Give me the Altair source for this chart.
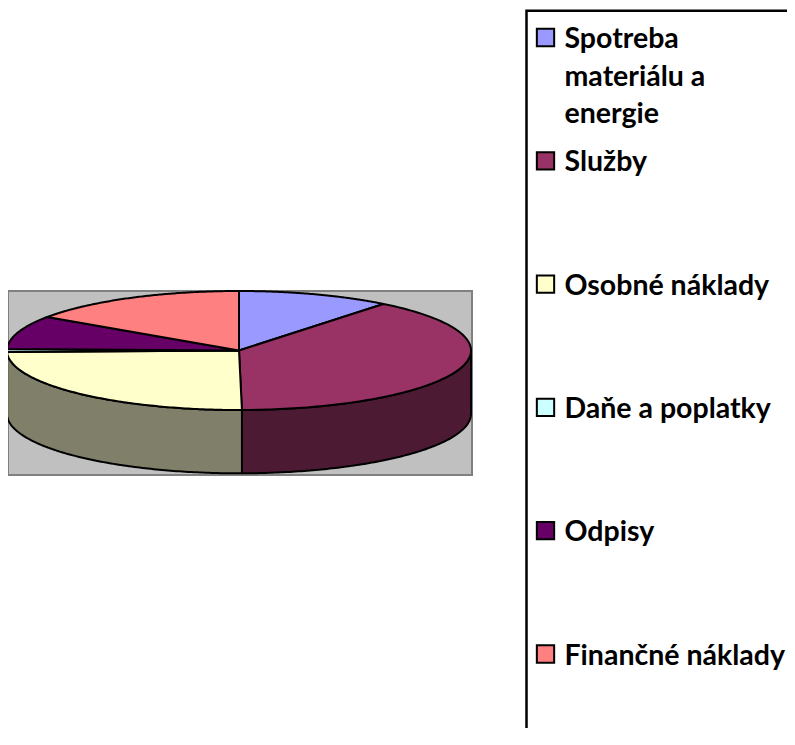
import altair as alt
import pandas as pd

# ---- data ----
kategorie = ["Spotreba materiálu a energie", "Služby", "Osobné náklady",
             "Daňe a poplatky", "Odpisy", "Finančné náklady"]
podiely = [10.7, 39.1, 24.8, 0.8, 9.1, 15.5]
legenda_texty = ["Spotreba\nmateriálu a\nenergie", "Služby", "Osobné náklady",
                 "Daňe a poplatky", "Odpisy", "Finančné náklady"]

# ---- styles ----
farby_vrch = ["#9999FF", "#993366", "#FFFFCC", "#CCFFFF", "#660066", "#FF8080"]
farby_bok = ["#4D4D80", "#4C1A33", "#80806A", "#668080", "#330033", "#804040"]
N = 120            # points per arc
HLBKA = 1.064      # depth of the 3D pie, in units of the vertical radius
XDOM = [-231 / 232, 233 / 232]
YDOM = [-2.092, 1.0]

df = pd.DataFrame({"kategoria": kategorie, "podiel": podiely,
                   "poradie": list(range(len(kategorie)))})
leg = pd.DataFrame({"kategoria": kategorie, "popis": legenda_texty})

base = (
    alt.Chart(df)
    .transform_window(kum="sum(podiel)", sort=[alt.SortField("poradie")], frame=[None, 0])
    .transform_joinaggregate(spolu="sum(podiel)")
    .transform_calculate(t0="2*PI*(datum.kum-datum.podiel)/datum.spolu")
    .transform_calculate(t1="2*PI*datum.kum/datum.spolu")
)

xenc = alt.X("px:Q", scale=alt.Scale(domain=XDOM, nice=False, zero=False), axis=None)
yenc = alt.Y("py:Q", scale=alt.Scale(domain=YDOM, nice=False, zero=False), axis=None)

# side walls (front half only)
bok = (
    base.transform_calculate(a0="max(datum.t0, PI/2)")
    .transform_calculate(a1="min(datum.t1, 3*PI/2)")
    .transform_filter("datum.a1 > datum.a0")
    .transform_calculate(k=f"sequence(0, {2 * N + 3})")
    .transform_flatten(["k"])
    .transform_calculate(dolu=f"datum.k > {N} && datum.k <= {2 * N + 1}")
    .transform_calculate(j=f"datum.k <= {N} ? datum.k : (datum.k <= {2 * N + 1} ? {2 * N + 1} - datum.k : 0)")
    .transform_calculate(t=f"datum.a0 + (datum.a1 - datum.a0) * datum.j / {N}")
    .transform_calculate(px="sin(datum.t)")
    .transform_calculate(py=f"cos(datum.t) - (datum.dolu ? {HLBKA} : 0)")
    .mark_line(filled=True, stroke="black", strokeWidth=2, strokeJoin="round")
    .encode(
        x=xenc, y=yenc,
        color=alt.Color("kategoria:N", scale=alt.Scale(domain=kategorie, range=farby_bok), legend=None),
        order=alt.Order("k:Q"),
    )
)

# top face
vrch = (
    base.transform_calculate(k=f"sequence(-1, {N + 2})")
    .transform_flatten(["k"])
    .transform_calculate(t=f"datum.t0 + (datum.t1 - datum.t0) * clamp(datum.k, 0, {N}) / {N}")
    .transform_calculate(stred=f"datum.k < 0 || datum.k > {N}")
    .transform_calculate(px="datum.stred ? 0 : sin(datum.t)")
    .transform_calculate(py="datum.stred ? 0 : cos(datum.t)")
    .mark_line(filled=True, stroke="black", strokeWidth=2, strokeJoin="round")
    .encode(
        x=xenc, y=yenc,
        color=alt.Color("kategoria:N", scale=alt.Scale(domain=kategorie, range=farby_vrch), legend=None),
        order=alt.Order("k:Q"),
    )
)

# legend
ramik = (
    alt.Chart(pd.DataFrame({"a": [0]}))
    .mark_rect(fill="white", stroke="black", strokeWidth=2.5)
    .encode(x=alt.value(518.5), x2=alt.value(900), y=alt.value(-280.3), y2=alt.value(1000))
)
leg_y = alt.Y("kategoria:N", scale=alt.Scale(type="point", domain=kategorie,
                                             range=[-253.5, 363], padding=0), axis=None)
stvorce = (
    alt.Chart(leg)
    .mark_square(size=300, stroke="black", strokeWidth=2, opacity=1)
    .encode(
        x=alt.value(537.5), y=leg_y,
        color=alt.Color("kategoria:N", scale=alt.Scale(domain=kategorie, range=farby_vrch), legend=None),
    )
)
texty = (
    alt.Chart(leg)
    .mark_text(align="left", baseline="alphabetic", dy=10.5, font="Lato", fontWeight="bold",
               fontSize=28.5, lineBreak="\n", lineHeight=37.5, color="black")
    .encode(x=alt.value(556.5), y=leg_y, text="popis:N")
)

chart = (
    alt.layer(bok, vrch, ramik, stvorce, texty)
    .resolve_scale(x="independent", y="independent", color="independent")
    .properties(
        width=464, height=184,
        autosize=alt.AutoSizeParams(type="none"),
        padding={"left": 0, "top": 283, "right": 315, "bottom": 253},
    )
    .configure_view(fill="#C0C0C0", stroke="#808080", strokeWidth=2)
)

chart.save("out.html", embed_options={"renderer": "svg", "actions": False})
